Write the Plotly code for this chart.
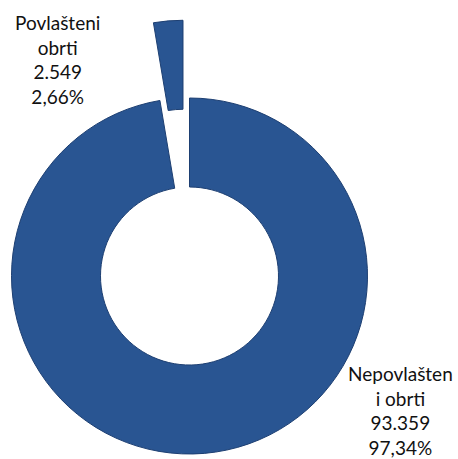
import math
import plotly.graph_objects as go

# ---- data ----
categories = ["Nepovlašteni obrti", "Povlašteni obrti"]
label_lines = [["Nepovlašten", "i obrti"], ["Povlašteni", "obrti"]]
values = [93359, 2549]

W, H = 458, 459
BLUE = "#295592"
EDGE = "#1d3f72"
CLEAR = "rgba(0,0,0,0)"

# geometry (pixels)
cx, cy, R = 189.5, 276.0, 178.0
shift = 78.0  # explode distance of the small slice
hole = 0.5

total = sum(values)
pct = [v / total * 100 for v in values]


def fmt_int(v):
    return f"{v:,}".replace(",", ".")


def fmt_pct(p):
    return f"{p:.2f}".replace(".", ",") + "%"


# bisector angle of small slice (clockwise from 12 o'clock)
start = sum(values[:1]) / total * 360
mid = start + values[1] / total * 360 / 2
ang = math.radians(mid)
cx2 = cx + shift * math.sin(ang)
cy2 = cy - shift * math.cos(ang)


def dom(cxp, cyp):
    return dict(x=[(cxp - R) / W, (cxp + R) / W],
                y=[(H - (cyp + R)) / H, (H - (cyp - R)) / H])


common = dict(labels=categories, values=values, sort=False, direction="clockwise",
              rotation=0, hole=hole, textinfo="none", hoverinfo="skip", showlegend=False)

fig = go.Figure()
fig.add_trace(go.Pie(**common, domain=dom(cx, cy),
                     marker=dict(colors=[BLUE, CLEAR], line=dict(color=[EDGE, CLEAR], width=1))))
fig.add_trace(go.Pie(**common, domain=dom(cx2, cy2),
                     marker=dict(colors=[CLEAR, BLUE], line=dict(color=[CLEAR, EDGE], width=1))))

label_pos = [(400, 410), (57, 60)]
for i in range(len(values)):
    txt = "<br>".join(label_lines[i] + [fmt_int(values[i]), fmt_pct(pct[i])])
    x, y = label_pos[i]
    fig.add_annotation(x=x / W, y=1 - y / H, xref="paper", yref="paper", text=txt,
                       showarrow=False, xanchor="center", yanchor="middle",
                       font=dict(family="Lato, Carlito, Calibri, sans-serif", size=19, color="#111111"))

fig.update_layout(width=W, height=H, margin=dict(l=0, r=0, t=0, b=0),
                  paper_bgcolor="white", plot_bgcolor="white")
fig.write_html("out.html", config={"displayModeBar": False},
               post_script="document.body.style.margin='0';document.body.style.overflow='hidden';")
